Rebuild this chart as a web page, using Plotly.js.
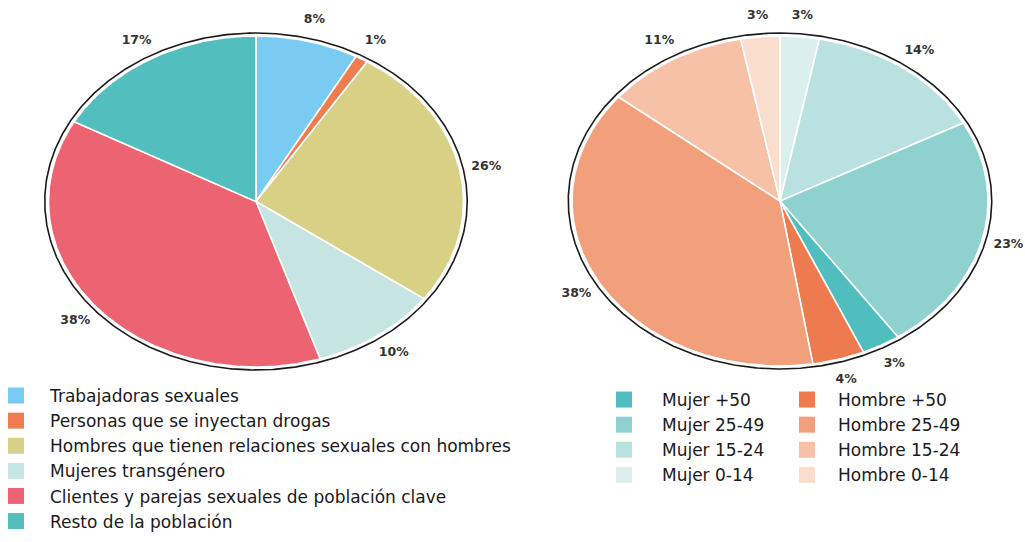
<!DOCTYPE html>
<html>
<head>
<meta charset="utf-8">
<script src="https://cdn.plot.ly/plotly-3.0.1.min.js"></script>
<style>html,body{margin:0;padding:0;background:#fff}#chart{width:1025px;height:542px}</style>
</head>
<body>
<div id="chart"></div>
<script>
// ---- Data: left pie (clockwise from 12 o'clock) ----
const leftLabels = ['Trabajadoras sexuales', 'Personas que se inyectan drogas', 'Hombres que tienen relaciones sexuales con hombres', 'Mujeres transgénero', 'Clientes y parejas sexuales de población clave', 'Resto de la población'];
const leftValues = [8, 1, 26, 10, 38, 17];
const leftColors = ['#7ACBF2', '#EF7D50', '#D8D185', '#C6E4E2', '#EC6472', '#52BEBE'];

// ---- Data: right pie (clockwise from 12 o'clock) ----
const rightLabels = ['Mujer 0-14', 'Mujer 15-24', 'Mujer 25-49', 'Mujer +50', 'Hombre +50', 'Hombre 25-49', 'Hombre 15-24', 'Hombre 0-14'];
const rightValues = [3, 14, 23, 3, 4, 38, 11, 3];
const rightColors = ['#DBEFEF', '#B8E1DF', '#8ED1CE', '#50BEBE', '#EE7A4F', '#F2A07B', '#F7C1A7', '#FBDDCE'];

// legend groups for the right chart
const mujerLegend = ['Mujer +50', 'Mujer 25-49', 'Mujer 15-24', 'Mujer 0-14'];
const hombreLegend = ['Hombre +50', 'Hombre 25-49', 'Hombre 15-24', 'Hombre 0-14'];

// ---- Layout geometry ----
const W = 1025, H = 542;
const pies = [
  {cx: 256, cy: 201.5, rx: 207.5, ry: 165.5, xr: [-1.2, 1.2], yr: [-1.2, 1.2], ax: 'x', ay: 'y'},
  {cx: 780, cy: 201, rx: 208, ry: 165, xr: [-1.2, 1.17], yr: [-1.2, 1.2], ax: 'x2', ay: 'y2'}
];
const labelR = 1.13, outlineR = 1.018;

function sliceTraces(values, colors, labels, p) {
  const total = values.reduce((a, b) => a + b, 0);
  const traces = [];
  const tx = [], ty = [], tt = [];
  let cum = 0;
  values.forEach((v, i) => {
    const a0 = cum / total * 2 * Math.PI;
    const a1 = (cum + v) / total * 2 * Math.PI;
    const xs = [0], ys = [0];
    const n = Math.max(2, Math.ceil((a1 - a0) / (Math.PI / 360)));
    for (let k = 0; k <= n; k++) {
      const a = a0 + (a1 - a0) * k / n;
      xs.push(Math.sin(a)); ys.push(Math.cos(a));
    }
    xs.push(0); ys.push(0);
    traces.push({type: 'scatter', x: xs, y: ys, xaxis: p.ax, yaxis: p.ay, mode: 'lines', fill: 'toself',
      fillcolor: colors[i], line: {color: '#ffffff', width: 1.6}, name: labels[i], showlegend: false, hoverinfo: 'name'});
    const m = (a0 + a1) / 2;
    tx.push(labelR * Math.sin(m)); ty.push(labelR * Math.cos(m)); tt.push(v + '%');
    cum += v;
  });
  // outline ring
  const ox = [], oy = [];
  for (let k = 0; k <= 720; k++) { const a = k / 720 * 2 * Math.PI; ox.push(outlineR * Math.sin(a)); oy.push(outlineR * Math.cos(a)); }
  traces.push({type: 'scatter', x: ox, y: oy, xaxis: p.ax, yaxis: p.ay, mode: 'lines', line: {color: '#1a1a1a', width: 1.6}, showlegend: false, hoverinfo: 'skip'});
  traces.push({type: 'scatter', x: tx, y: ty, xaxis: p.ax, yaxis: p.ay, mode: 'text', text: tt, cliponaxis: false,
    textfont: {family: 'DejaVu Sans', size: 12.5, color: '#333333', weight: 'bold'}, textposition: 'middle center', showlegend: false, hoverinfo: 'skip'});
  return traces;
}

function legendTrace(name, color, legendId) {
  return {type: 'scatter', x: [null], y: [null], mode: 'markers', name: name, legend: legendId,
    marker: {symbol: 'square', size: 16, color: color}, showlegend: true, hoverinfo: 'skip'};
}

let data = [];
data = data.concat(sliceTraces(leftValues, leftColors, leftLabels, pies[0]));
data = data.concat(sliceTraces(rightValues, rightColors, rightLabels, pies[1]));
leftLabels.forEach((l, i) => data.push(legendTrace(l, leftColors[i], 'legend')));
mujerLegend.forEach(l => data.push(legendTrace(l, rightColors[rightLabels.indexOf(l)], 'legend2')));
hombreLegend.forEach(l => data.push(legendTrace(l, rightColors[rightLabels.indexOf(l)], 'legend3')));

function axes(p) {
  const x0 = (p.cx + p.xr[0] * p.rx) / W, x1 = (p.cx + p.xr[1] * p.rx) / W;
  const yTop = p.cy - p.yr[1] * p.ry, yBot = p.cy - p.yr[0] * p.ry;
  return [
    {domain: [x0, x1], range: p.xr, visible: false, fixedrange: true},
    {domain: [1 - yBot / H, 1 - yTop / H], range: p.yr, visible: false, fixedrange: true}
  ];
}
const a0 = axes(pies[0]), a1 = axes(pies[1]);
const legendFont = {family: 'DejaVu Sans', size: 17, color: '#1a1a1a'};
const layout = {
  width: W, height: H,
  margin: {l: 0, r: 0, t: 0, b: 0, autoexpand: false},
  paper_bgcolor: '#ffffff', plot_bgcolor: 'rgba(0,0,0,0)',
  showlegend: true,
  xaxis: a0[0], yaxis: a0[1],
  xaxis2: Object.assign(a1[0], {anchor: 'y2'}), yaxis2: Object.assign(a1[1], {anchor: 'x2'}),
  legend: {x: -18 / W, xanchor: 'left', y: 1 - 378 / H, yanchor: 'top', font: legendFont, tracegroupgap: 0, itemwidth: 58, bgcolor: 'rgba(0,0,0,0)', traceorder: 'normal'},
  legend2: {x: 586 / W, xanchor: 'left', y: 1 - 382 / H, yanchor: 'top', font: legendFont, tracegroupgap: 0, itemwidth: 66, bgcolor: 'rgba(0,0,0,0)', traceorder: 'normal'},
  legend3: {x: 776 / W, xanchor: 'left', y: 1 - 382 / H, yanchor: 'top', font: legendFont, tracegroupgap: 0, itemwidth: 52, bgcolor: 'rgba(0,0,0,0)', traceorder: 'normal'},
  hovermode: 'closest'
};
Plotly.newPlot('chart', data, layout, {displayModeBar: false, staticPlot: true});
</script>
</body>
</html>
